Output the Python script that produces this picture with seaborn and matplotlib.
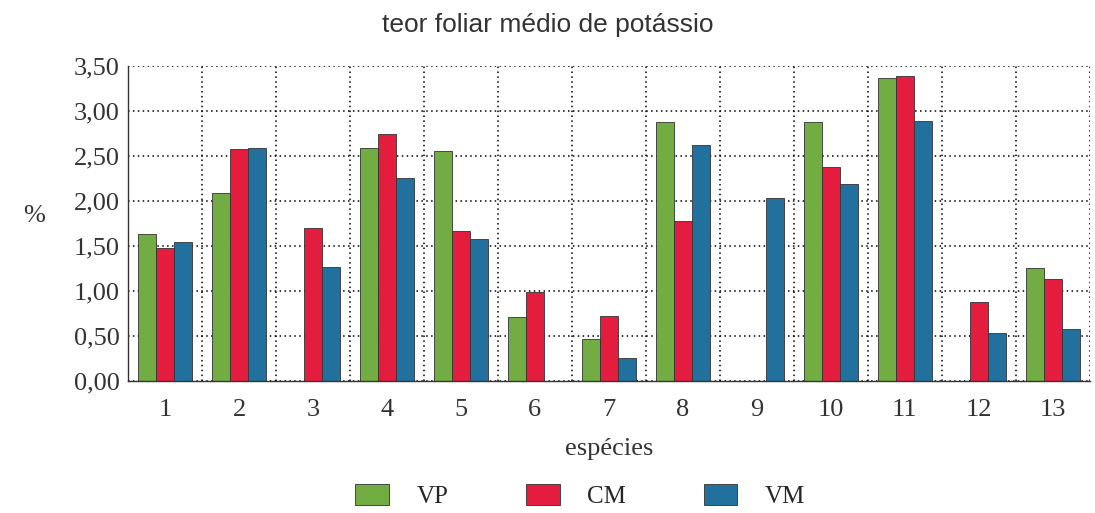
import numpy as np
import pandas as pd
import seaborn as sns
import matplotlib.pyplot as plt
from matplotlib.ticker import FuncFormatter, MultipleLocator

# teor foliar medio de potassio (%) por especie
especies = [str(i) for i in range(1, 14)]
vp = [1.63, 2.09, np.nan, 2.59, 2.56, 0.71, 0.47, 2.88, np.nan, 2.88, 3.37, np.nan, 1.26]
cm = [1.48, 2.58, 1.70, 2.75, 1.67, 0.99, 0.72, 1.78, np.nan, 2.38, 3.39, 0.88, 1.14]
vm = [1.55, 2.59, 1.27, 2.26, 1.58, np.nan, 0.26, 2.62, 2.03, 2.19, 2.89, 0.54, 0.58]

grupos = ["VP", "CM", "VM"]
cores = ["#71ad42", "#e41d3f", "#22709e"]

df = pd.DataFrame({"especie": especies, "VP": vp, "CM": cm, "VM": vm})
df = df.melt(id_vars="especie", var_name="grupo", value_name="teor")

sns.set_style("white")
plt.rcParams["font.family"] = ["Liberation Serif", "DejaVu Serif"]

fig = plt.figure(figsize=(10.95, 5.13), dpi=100)
ax = fig.add_axes([0.117, 0.257, 0.878, 0.614])

sns.barplot(data=df, x="especie", y="teor", hue="grupo", hue_order=grupos,
            order=especies, palette=cores, width=0.73, edgecolor="#333333",
            linewidth=0.6, saturation=1, ax=ax, legend=True)

ax.set_xlim(-0.5, 12.5)
ax.set_ylim(0, 3.5)
ax.yaxis.set_major_locator(MultipleLocator(0.5))
ax.yaxis.set_major_formatter(FuncFormatter(lambda v, p: f"{v:.2f}".replace(".", ",")))

# tick marks between the categories, labels in the middle
ax.set_xticks(np.arange(-0.5, 13, 1), minor=True)
ax.tick_params(axis="x", which="major", length=0, labelsize=19, pad=13,
               labelcolor="#333333")
ax.tick_params(axis="x", which="minor", length=8, direction="inout", width=1)
ax.tick_params(axis="y", which="major", length=8, direction="inout", width=1,
               labelsize=19, pad=2, labelcolor="#333333")

ax.grid(True, axis="y", which="major", color="black", linestyle=(0, (1, 2.2)), linewidth=1.1)
ax.grid(True, axis="x", which="minor", color="black", linestyle=(0, (1, 2.2)), linewidth=1.1)
ax.grid(False, axis="x", which="major")
ax.set_axisbelow(True)

for s in ["top", "right"]:
    ax.spines[s].set_visible(False)
for s in ["left", "bottom"]:
    ax.spines[s].set_color("#333333")
    ax.spines[s].set_linewidth(1)

ax.set_xlabel("espécies", fontsize=19, labelpad=12, color="#333333")
ax.set_ylabel("%", fontsize=19, rotation=0, color="#333333")
ax.yaxis.set_label_coords(-0.098, 0.49)

fig.suptitle("teor foliar médio de potássio", fontsize=19, y=0.975,
             family=["Liberation Sans", "DejaVu Sans"], color="#333333")

handles, labels = ax.get_legend_handles_labels()
ax.get_legend().remove()
fig.legend(handles, labels, loc="lower center", bbox_to_anchor=(0.53, -0.035), ncol=3,
           frameon=False, fontsize=18, handlelength=1.35, handleheight=0.9,
           handletextpad=1.1, columnspacing=3.1)

fig.savefig("out.png", dpi=100)
